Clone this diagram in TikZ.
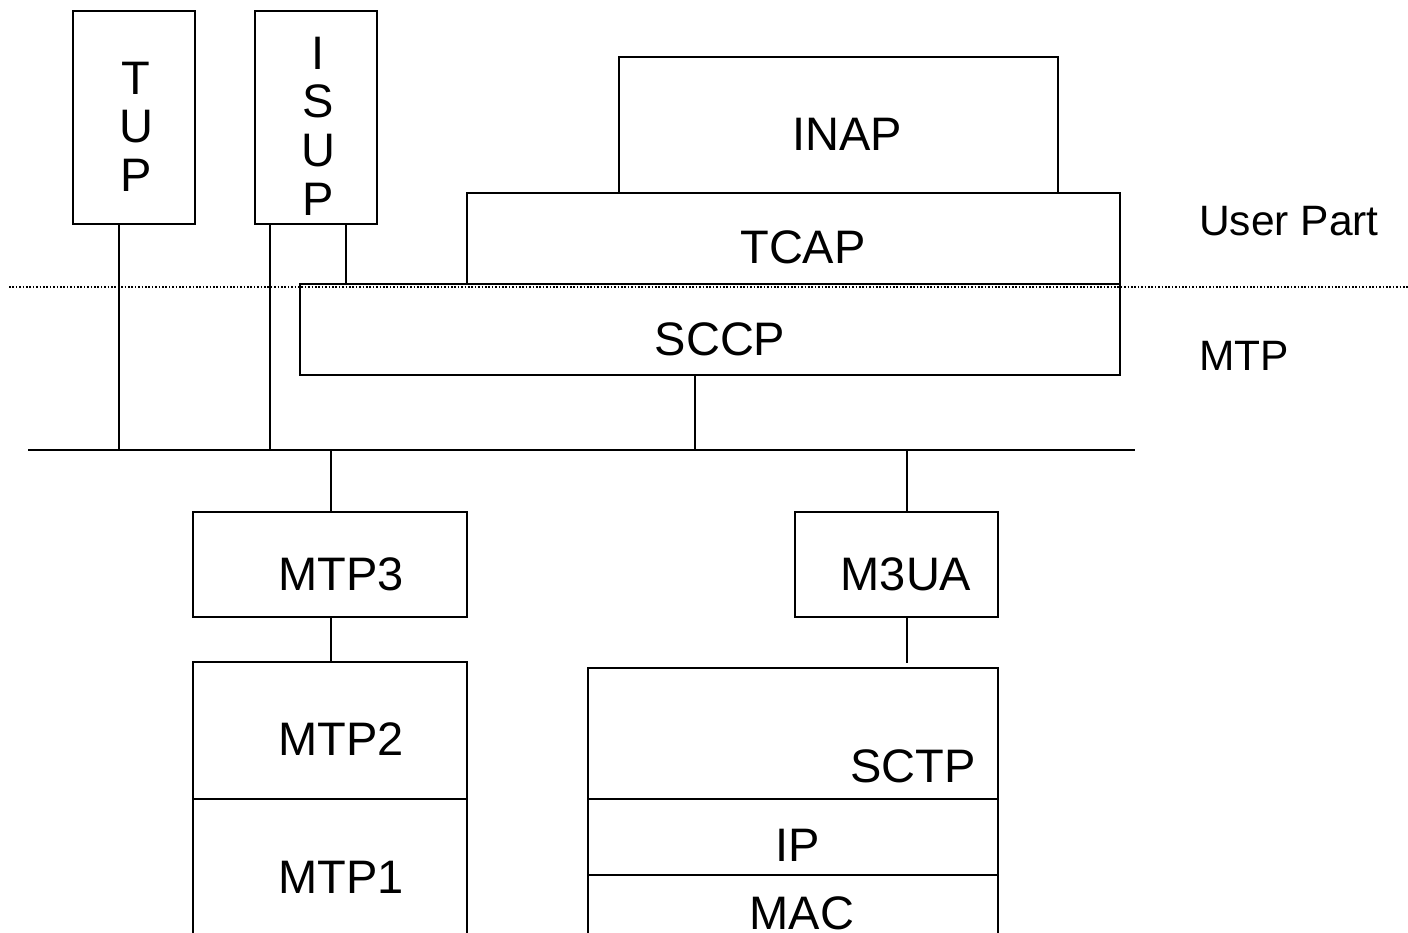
\documentclass[tikz,border=0pt]{standalone}
\usepackage{fontspec}
\setmainfont{Liberation Sans}
\begin{document}
\begin{tikzpicture}[x=1pt,y=-1pt,
  box/.style={draw=black, line width=1.8pt, inner sep=0pt, outer sep=0pt, anchor=north west},
  lbl/.style={inner sep=0pt, anchor=base, font=\fontsize{47}{49}\selectfont},
  side/.style={inner sep=0pt, anchor=base west, font=\fontsize{42.5}{46}\selectfont},
  conn/.style={line width=1.5pt},
  busline/.style={line width=2pt},
  dotline/.style={line width=1.8pt, dash pattern=on 1.6pt off 1.8pt}]
\useasboundingbox (0,0) rectangle (1408,932);
\fill[white] (0,0) rectangle (1408,932);
% boxes
\node[box, minimum width=122pt, minimum height=213pt] (tup) at (73,11) {};
\node[box, minimum width=122pt, minimum height=213pt] (isup) at (255,11) {};
\node[box, minimum width=439pt, minimum height=136pt] (inap) at (619,57) {};
\node[box, minimum width=653pt, minimum height=91pt] (tcap) at (467,193) {};
\node[box, minimum width=820pt, minimum height=91pt] (sccp) at (300,284) {};
\node[box, minimum width=274pt, minimum height=105pt] (mtp3) at (193,512) {};
\node[box, minimum width=274pt, minimum height=137pt] (mtp2) at (193,662) {};
\node[box, minimum width=274pt, minimum height=150pt] (mtp1) at (193,799) {};
\node[box, minimum width=203pt, minimum height=105pt] (m3ua) at (795,512) {};
\node[box, minimum width=410pt, minimum height=131pt] (sctp) at (588,668) {};
\node[box, minimum width=410pt, minimum height=76pt] (ip) at (588,799) {};
\node[box, minimum width=410pt, minimum height=75pt] (mac) at (588,875) {};
% labels
\node[lbl] (tupT) at (136,94) {T};
\node[lbl] (tupU) at (136,142.5) {U};
\node[lbl] (tupP) at (136,191) {P};
\node[lbl] (isupI) at (318,69) {I};
\node[lbl] (isupS) at (318,117.5) {S};
\node[lbl] (isupU) at (318,166) {U};
\node[lbl] (isupP) at (318,215) {P};
\node[lbl] (inapT) at (847,150) {INAP};
\node[lbl] (tcapT) at (803,263) {TCAP};
\node[lbl] (sccpT) at (720,355) {SCCP};
\node[lbl] (mtp3T) at (341,590) {MTP3};
\node[lbl] (mtp2T) at (341,755) {MTP2};
\node[lbl] (mtp1T) at (341,893) {MTP1};
\node[lbl] (m3uaT) at (906,590) {M3UA};
\node[lbl] (sctpT) at (913,782) {SCTP};
\node[lbl] (ipT) at (798,861) {IP};
\node[lbl] (macT) at (802,929) {MAC};
\node[side] (userpart) at (1199,235) {User Part};
\node[side] (mtpside) at (1199,370) {MTP};
% dotted separator
\coordinate (dl) at (9,287);
\coordinate (dr) at (1408,287);
\draw[dotline] (dl) -- (dr);
% bus
\coordinate (busL) at (28,450);
\coordinate (busR) at (1135,450);
\draw[busline] (busL) -- (busR);
\coordinate (b1) at (119,450);
\coordinate (b2) at (270,450);
\coordinate (b3) at (695,450);
\coordinate (b4) at (331,450);
\coordinate (b5) at (907,450);
\coordinate (c1) at (346,0);
\coordinate (e1) at (907,663);
% connectors
\draw[conn] (tup.south -| b1) -- (b1);
\draw[conn] (isup.south -| b2) -- (b2);
\draw[conn] (isup.south -| c1) -- (sccp.north -| c1);
\draw[conn] (sccp.south -| b3) -- (b3);
\draw[conn] (b4) -- (mtp3.north -| b4);
\draw[conn] (mtp3.south -| b4) -- (mtp2.north -| b4);
\draw[conn] (b5) -- (m3ua.north -| b5);
\draw[conn] (m3ua.south -| b5) -- (e1);
\end{tikzpicture}
\end{document}
